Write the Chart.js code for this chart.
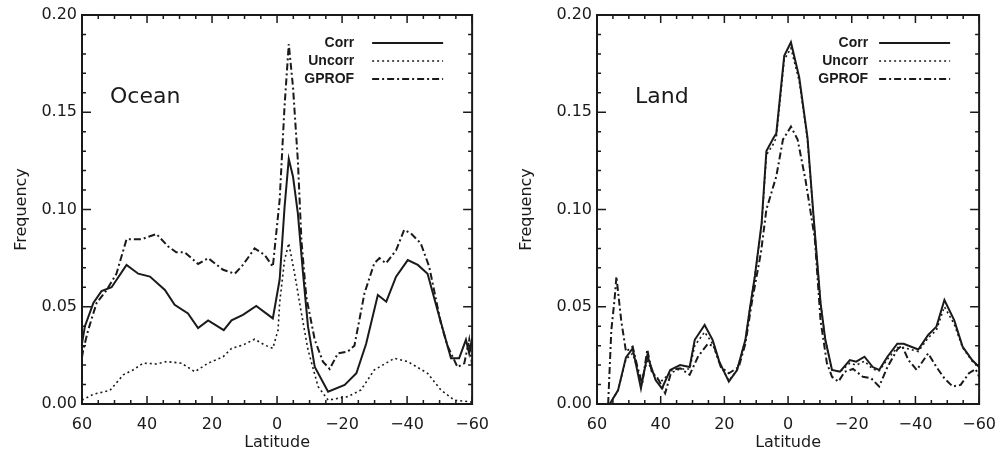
<!DOCTYPE html>
<html>
<head>
<meta charset="utf-8">
<script src="https://cdn.jsdelivr.net/npm/chart.js@4/dist/chart.umd.min.js"></script>
<style>
html, body { margin: 0; padding: 0; background: #fff; }
#wrap { position: relative; width: 1007px; height: 457px; }
.panel { position: absolute; top: 0; height: 457px; }
#oceanBox { left: 0; width: 500px; }
#landBox { left: 500px; width: 507px; }
</style>
</head>
<body>
<div id="wrap">
  <div class="panel" id="oceanBox"><canvas id="oceanChart" width="500" height="457"></canvas></div>
  <div class="panel" id="landBox"><canvas id="landChart" width="507" height="457"></canvas></div>
</div>
<script>
'use strict';

// [latitude, frequency] pairs
const oceanCorr = [
    [60, 0.031], [59.1, 0.040], [56.5, 0.052], [54, 0.058], [50.9, 0.060], [46.3, 0.0715],
    [42.7, 0.067], [39.1, 0.0655], [34.5, 0.0586], [31.5, 0.051], [27.4, 0.0466], [24.3, 0.039],
    [21.2, 0.043], [16.4, 0.038], [14, 0.043], [10.5, 0.0458], [6.4, 0.0504], [1.3, 0.044],
    [-0.8, 0.064], [-2.3, 0.101], [-3.6, 0.126], [-4.9, 0.117], [-6.4, 0.098], [-8, 0.067],
    [-9.5, 0.040], [-11.6, 0.019], [-15.7, 0.0063], [-20.8, 0.0098], [-24.4, 0.0158], [-27.4, 0.031],
    [-31, 0.056], [-33.6, 0.0526], [-36.6, 0.0655], [-40.2, 0.074], [-43.3, 0.0715], [-46.3, 0.067],
    [-49.4, 0.048], [-53.5, 0.0235], [-56, 0.0235], [-58.1, 0.033], [-59.1, 0.026], [-60, 0.034]
];
const oceanUncorr = [
    [60, 0.002], [56.5, 0.005], [51.4, 0.007], [47.3, 0.015], [44.3, 0.0175], [41.2, 0.021],
    [37.1, 0.0206], [34, 0.0218], [29.4, 0.021], [25.3, 0.0166], [21.2, 0.021], [16.6, 0.0243],
    [14, 0.0286], [10.5, 0.0303], [6.9, 0.0333], [3.8, 0.0303], [1.3, 0.0286], [-0.3, 0.038],
    [-0.8, 0.052], [-2.3, 0.074], [-3.6, 0.0826], [-5.4, 0.067], [-7.5, 0.0466], [-9.5, 0.028],
    [-12.6, 0.009], [-15.7, 0.002], [-21.8, 0.0038], [-25.8, 0.0072], [-29.9, 0.0175], [-36.1, 0.0235],
    [-40.2, 0.0218], [-46.3, 0.0158], [-50.4, 0.0072], [-54.5, 0.002], [-60, 0.001]
];
const oceanGprof = [
    [60, 0.024], [59.6, 0.028], [58.1, 0.038], [55.5, 0.052], [52.4, 0.0586], [49.4, 0.067],
    [46.3, 0.0847], [41.7, 0.0847], [37.1, 0.0874], [33.5, 0.081], [31, 0.078], [28.4, 0.078],
    [24.3, 0.072], [21.2, 0.075], [16.6, 0.069], [13, 0.067], [10.5, 0.0715], [6.9, 0.080],
    [3.8, 0.0766], [1.3, 0.0706], [-0.8, 0.105], [-2.3, 0.153], [-3.6, 0.185], [-4.9, 0.163],
    [-6.4, 0.125], [-7.5, 0.084], [-9, 0.055], [-11.6, 0.033], [-14.1, 0.0218], [-16.2, 0.018],
    [-18.7, 0.026], [-21.8, 0.027], [-23.8, 0.030], [-26.9, 0.057], [-29.9, 0.0723], [-31.5, 0.075],
    [-33.5, 0.0723], [-36.6, 0.079], [-39.1, 0.0895], [-41.2, 0.0877], [-44.2, 0.0826], [-46.8, 0.0706],
    [-50.4, 0.0415], [-52.4, 0.030], [-55.5, 0.019], [-57.6, 0.021], [-59.1, 0.033], [-60, 0.020]
];

const landCorr = [
    [56, 0], [53.4, 0.007], [50.9, 0.024], [48.8, 0.0286], [46.2, 0.008], [44.2, 0.025],
    [41.6, 0.0123], [39.6, 0.008], [37, 0.0175], [33.9, 0.020], [30.9, 0.019], [29.3, 0.033],
    [26.2, 0.0406], [23.7, 0.033], [21.6, 0.0218], [18.6, 0.0115], [16, 0.0175], [13.4, 0.033],
    [11.9, 0.050], [10.4, 0.066], [8.3, 0.093], [6.8, 0.130], [4.5, 0.137], [3.7, 0.139],
    [1.2, 0.179], [-0.9, 0.186], [-3.5, 0.168], [-6.1, 0.137], [-8.1, 0.0946], [-10.2, 0.052],
    [-11.7, 0.033], [-13.8, 0.0175], [-16.3, 0.0166], [-19.4, 0.0226], [-21.4, 0.0218], [-24, 0.0243],
    [-26.6, 0.019], [-28.6, 0.0175], [-31.2, 0.0243], [-34.3, 0.031], [-36.3, 0.031], [-40.9, 0.028],
    [-44, 0.0355], [-46.6, 0.0398], [-49.1, 0.0535], [-52.2, 0.043], [-54.8, 0.0295], [-57.8, 0.0226],
    [-60, 0.019]
];
const landUncorr = [
    [56, 0], [53.4, 0.007], [50.9, 0.023], [48.8, 0.026], [46.2, 0.012], [44.2, 0.022],
    [41.6, 0.014], [39.6, 0.012], [37, 0.016], [33.9, 0.018], [30.9, 0.018], [29.3, 0.030],
    [26.2, 0.037], [23.7, 0.031], [21.6, 0.021], [18.6, 0.012], [16, 0.0175], [13.4, 0.033],
    [11.9, 0.050], [10.4, 0.066], [8.3, 0.092], [6.8, 0.128], [4.5, 0.134], [3.7, 0.137],
    [1.2, 0.177], [-0.9, 0.183], [-3.5, 0.166], [-6.1, 0.136], [-8.1, 0.094], [-10.2, 0.052],
    [-11.7, 0.033], [-13.8, 0.0175], [-16.3, 0.0166], [-19.4, 0.021], [-21.4, 0.020], [-24, 0.022],
    [-26.6, 0.018], [-28.6, 0.017], [-31.2, 0.023], [-34.3, 0.029], [-36.3, 0.029], [-40.9, 0.027],
    [-44, 0.034], [-46.6, 0.038], [-49.1, 0.050], [-52.2, 0.041], [-54.8, 0.029], [-57.8, 0.022],
    [-60, 0.019]
];
const landGprof = [
    [56.5, 0], [55.5, 0.038], [54.5, 0.0535], [53.9, 0.0655], [52.4, 0.043], [50.9, 0.027],
    [48.8, 0.0295], [47.3, 0.019], [45.8, 0.0106], [44.2, 0.028], [42.7, 0.0158], [40.6, 0.0123],
    [38.6, 0.0055], [36.5, 0.0175], [33.9, 0.0184], [30.9, 0.015], [28.3, 0.0243], [25.2, 0.031],
    [23.2, 0.0295], [21.1, 0.019], [18.6, 0.0158], [15.5, 0.019], [13.4, 0.031], [11.4, 0.052],
    [8.5, 0.078], [6.8, 0.100], [3.7, 0.117], [1.6, 0.136], [-0.9, 0.1426], [-3.0, 0.136],
    [-5.5, 0.115], [-8.4, 0.085], [-10.2, 0.043], [-12.2, 0.021], [-13.8, 0.014], [-15.8, 0.0115],
    [-17.8, 0.0166], [-20.4, 0.018], [-23.5, 0.014], [-26.1, 0.0132], [-28.6, 0.009], [-31.2, 0.019],
    [-34.3, 0.028], [-35.8, 0.030], [-37.8, 0.0226], [-40.4, 0.0175], [-44, 0.026], [-46.6, 0.019],
    [-49.1, 0.0132], [-51.7, 0.009], [-54.2, 0.0098], [-56.8, 0.0158], [-58.9, 0.018], [-60, 0.014]
];

const seriesNames = ['Corr', 'Uncorr', 'GPROF'];
const seriesDash = [[], [2, 3], [7, 3, 2, 3]];
const seriesWidth = [2, 1.6, 2];
const latTicks = [60, 40, 20, 0, -20, -40, -60];

const tickFont = { family: 'DejaVu Sans', size: 16 };
const lineColor = '#1a1a1a';

const toPoints = function (pairs) {
    return pairs.map(p => ({ x: p[0], y: p[1] }));
};

// IDL style box: frame plus inward ticks on all four sides, legend and panel name
const framePlugin = {
    id: 'idlFrame',
    afterDatasetsDraw(chart, args, opts) {
        const ctx = chart.ctx;
        const area = chart.chartArea;
        const xs = chart.scales.x;
        const ys = chart.scales.y;
        ctx.save();
        ctx.setLineDash([]);
        ctx.strokeStyle = lineColor;
        ctx.lineWidth = 2;
        ctx.strokeRect(area.left, area.top, area.right - area.left, area.bottom - area.top);

        ctx.lineWidth = 1.5;
        ctx.beginPath();
        for (let k = -12; k <= 12; k++) {
            const px = xs.getPixelForValue(k * 5);
            const len = k % 4 === 0 ? 8 : 4;
            ctx.moveTo(px, area.bottom);
            ctx.lineTo(px, area.bottom - len);
            ctx.moveTo(px, area.top);
            ctx.lineTo(px, area.top + len);
        }
        for (let k = 0; k <= 20; k++) {
            const py = ys.getPixelForValue(k / 100);
            const len = k % 5 === 0 ? 9 : 4;
            ctx.moveTo(area.left, py);
            ctx.lineTo(area.left + len, py);
            ctx.moveTo(area.right, py);
            ctx.lineTo(area.right - len, py);
        }
        ctx.stroke();

        // panel name
        ctx.fillStyle = lineColor;
        ctx.font = '22px "DejaVu Sans"';
        ctx.textAlign = 'left';
        ctx.textBaseline = 'middle';
        ctx.fillText(opts.name, area.left + opts.nameDx, area.top + 82);

        // legend: text, then a line sample to its right
        ctx.font = 'bold 14px "Liberation Sans"';
        ctx.textAlign = 'right';
        chart.data.datasets.forEach((ds, i) => {
            const y = area.top + 28 + i * 18;
            ctx.fillText(ds.label, area.right - opts.legendDx, y);
            ctx.beginPath();
            ctx.lineWidth = ds.borderWidth;
            ctx.setLineDash(ds.borderDash);
            ctx.moveTo(area.right - 100, y);
            ctx.lineTo(area.right - 29, y);
            ctx.stroke();
        });
        ctx.restore();
    }
};

const makeChart = function (canvasId, series, name, opts) {
    const ctx = document.getElementById(canvasId).getContext('2d');
    return new Chart(ctx, {
        type: 'line',
        data: {
            datasets: series.map((pairs, i) => ({
                label: seriesNames[i],
                data: toPoints(pairs),
                borderColor: lineColor,
                borderWidth: seriesWidth[i],
                borderDash: seriesDash[i],
                pointRadius: 0,
                tension: 0,
                fill: false
            }))
        },
        options: {
            responsive: false,
            animation: false,
            layout: {
                padding: { top: 15, right: opts.padRight, left: 0, bottom: 0 }
            },
            plugins: {
                legend: false,
                tooltip: { enabled: false },
                idlFrame: { name: name, nameDx: opts.nameDx, legendDx: opts.legendDx }
            },
            scales: {
                x: {
                    type: 'linear',
                    min: -60,
                    max: 60,
                    reverse: true,
                    afterBuildTicks: function (scale) {
                        scale.ticks = latTicks.map(v => ({ value: v }));
                    },
                    afterFit: function (scale) {
                        scale.height = 53;
                    },
                    grid: { display: false, drawTicks: false },
                    border: { display: false },
                    ticks: {
                        autoSkip: false,
                        maxRotation: 0,
                        padding: 11,
                        color: lineColor,
                        font: tickFont,
                        callback: v => (v < 0 ? '\u2212' + Math.abs(v) : String(v))
                    },
                    title: {
                        display: true,
                        text: 'Latitude',
                        color: lineColor,
                        font: { family: 'DejaVu Sans', size: 16 },
                        padding: { top: 0, bottom: 5 }
                    }
                },
                y: {
                    type: 'linear',
                    min: 0,
                    max: 0.2,
                    afterFit: function (scale) {
                        scale.width = opts.yWidth;
                    },
                    grid: { display: false, drawTicks: false },
                    border: { display: false },
                    ticks: {
                        stepSize: 0.05,
                        padding: 5,
                        color: lineColor,
                        font: tickFont,
                        callback: v => v.toFixed(2)
                    },
                    title: {
                        display: true,
                        text: 'Frequency',
                        color: lineColor,
                        font: { family: 'DejaVu Sans', size: 16 },
                        padding: { top: opts.titlePad, bottom: 0 }
                    }
                }
            }
        },
        plugins: [framePlugin]
    });
};

makeChart('oceanChart', [oceanCorr, oceanUncorr, oceanGprof], 'Ocean',
    { padRight: 27, yWidth: 82, titlePad: 12, nameDx: 28, legendDx: 118 });
makeChart('landChart', [landCorr, landUncorr, landGprof], 'Land',
    { padRight: 20, yWidth: 97, titlePad: 17, nameDx: 38, legendDx: 111 });
</script>
</body>
</html>
